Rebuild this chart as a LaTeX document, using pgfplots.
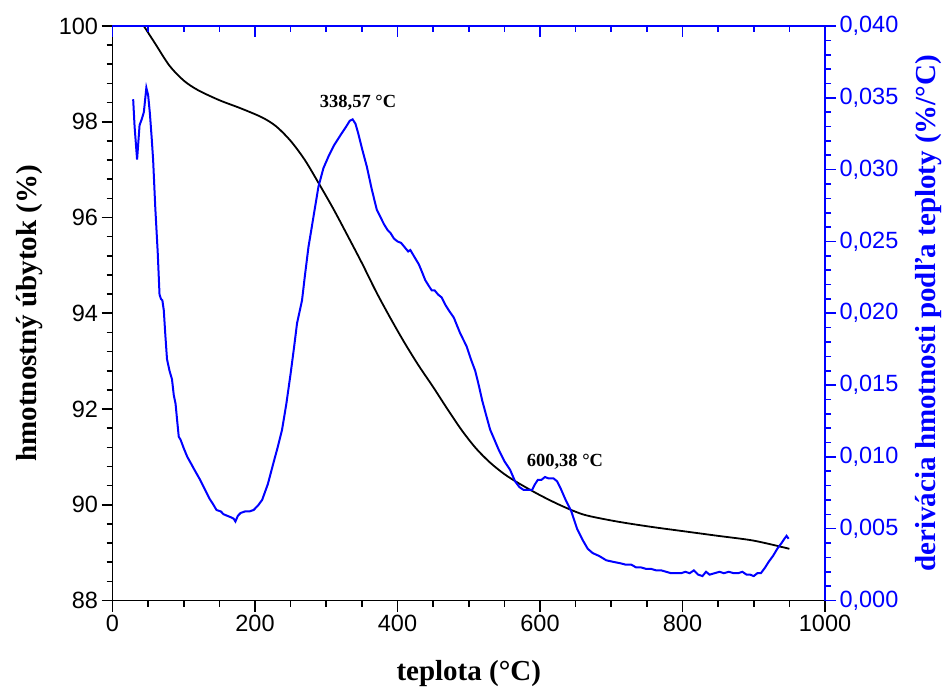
\documentclass[border=0pt]{standalone}
\usepackage{fontspec}
\setmainfont{Liberation Serif}
\newfontfamily\arial{Liberation Sans}
\usepackage{pgfplots}
\pgfplotsset{compat=1.18}
\usetikzlibrary{calc}

\pgfplotsset{
  tgbase/.style={
    scale only axis, width=712.5pt, height=574.5pt,
    xmin=0, xmax=1000,
    tick label style={font=\arial\fontsize{23.5}{23.5}\selectfont},
    /pgf/number format/assume math mode=true,
    major tick length=11pt, minor tick length=6pt,
    axis line style={-, line width=1.9pt},
    clip=false,
  },
}

\begin{document}
\begin{tikzpicture}
% hmotnost (lava os)
\begin{axis}[tgbase,
  ymin=88, ymax=100,
  axis x line*=bottom, axis y line*=left,
  xtick={0,200,400,600,800,1000}, ytick={88,90,92,94,96,98,100},
  minor x tick num=3, minor y tick num=4,
  tick align=outside,
  every tick/.style={black, line width=1.6pt},
  x tick label style={/pgf/number format/1000 sep={}},
]
\coordinate (bl) at (rel axis cs:0,0);
\coordinate (tr) at (rel axis cs:1,1);
\coordinate (ml) at (rel axis cs:0,0.5);
\coordinate (mb) at (rel axis cs:0.5,0);
\coordinate (mr) at (rel axis cs:1,0.5);
\addplot[black, line width=1.8pt, smooth] coordinates {
(44,100.0)(60,99.63)(80,99.17)(100,98.86)(120,98.66)(150,98.45)(180,98.28)
(210,98.09)(230,97.90)(250,97.60)(270,97.20)(290,96.70)(310,96.18)(330,95.62)
(350,95.05)(370,94.45)(390,93.90)(410,93.38)(430,92.90)(450,92.46)(470,92.00)
(490,91.56)(510,91.18)(530,90.88)(550,90.64)(570,90.45)(600,90.20)(630,89.98)
(660,89.80)(690,89.70)(720,89.62)(760,89.53)(800,89.45)(850,89.35)(900,89.25)
(950,89.08)
};
\end{axis}

% derivacia (prava os)
\begin{axis}[tgbase,
  ymin=0, ymax=0.04,
  axis x line=none, axis y line*=right,
  ytick={0,0.005,0.01,0.015,0.02,0.025,0.03,0.035,0.04},
  minor y tick num=4,
  tick align=outside,
  y axis line style={blue},
  every tick/.style={blue, line width=1.6pt},
  scaled y ticks=false,
  yticklabel style={blue, /pgf/number format/.cd, fixed, fixed zerofill, precision=3, use comma},
]
\addplot[blue, line width=2pt] coordinates {
(29,0.0349)(31,0.0330)(34.5,0.0307)(38,0.0331)(41,0.0335)(44,0.0340)(47.5,0.0357)
(50,0.0352)(52.5,0.0339)(55,0.0322)(57,0.0307)(60,0.0274)(63.5,0.0242)(66,0.0213)
(68,0.0210)(70,0.0209)(72,0.0202)(74,0.0186)(76.5,0.0168)(80,0.0160)(83.5,0.0154)
(86,0.0143)(88.5,0.0137)(91,0.0124)(93,0.0114)(95.5,0.0112)(100,0.0106)(105,0.0100)
(109.5,0.0096)(115,0.0091)(123,0.0084)(130,0.0077)(136,0.0071)(140,0.0068)
(146,0.0063)(152,0.0062)(156,0.0060)(161,0.0059)(166,0.0058)(170,0.0057)
(172.5,0.0055)(176,0.0059)(180,0.0061)(186,0.0062)(192,0.0062)(198,0.0063)
(204,0.0066)(210,0.0070)(218,0.0081)(226,0.0096)(232,0.0107)(238,0.0119)
(244,0.0137)(250,0.0158)(255,0.0177)(259,0.0193)(266,0.0209)(270,0.0226)
(275,0.0246)(282,0.0267)(289,0.0288)(296,0.0301)(303,0.0309)(311,0.0317)
(320,0.0324)(328,0.0330)(333,0.0334)(337,0.0335)(341,0.0332)(345,0.0325)
(350,0.0315)(357,0.0302)(364,0.0286)(371,0.0272)(376,0.0267)(381,0.0262)
(386,0.0258)(390,0.0256)(395,0.0252)(400,0.0250)(405,0.0249)(410,0.0246)
(415,0.0243)(418,0.0244)(424,0.0239)(430,0.0234)(435,0.0228)(439,0.0223)
(444,0.0219)(448,0.0216)(452,0.0216)(457,0.0213)(462,0.0211)(467,0.0206)
(472,0.0202)(479,0.0197)(488,0.0186)(497,0.0177)(503,0.0168)(509,0.0160)
(514,0.0150)(519,0.0139)(525,0.0128)(530,0.0119)(536,0.0112)(542,0.0105)
(550,0.0097)(558,0.0091)(565,0.0083)(571,0.0079)(577,0.0077)(583,0.0077)
(589,0.0077)(593,0.0081)(597,0.0084)(602,0.0084)(607,0.0086)(612,0.0085)
(619,0.0085)(624,0.0083)(629,0.0078)(636,0.0070)(644,0.0062)(652,0.0050)
(660,0.0042)(667,0.0036)(674,0.0033)(683,0.0031)(693,0.0028)(702,0.0027)
(712,0.0026)(720,0.0025)(728,0.0025)(735,0.0023)(742,0.0023)(749,0.0022)
(756,0.0022)(763,0.0021)(770,0.0021)(777,0.0020)(784,0.0019)(791,0.0019)
(798,0.0019)(804,0.0020)(810,0.0019)(816,0.0021)(822,0.0018)(828,0.0017)
(833,0.0020)(838,0.0018)(845,0.0019)(852,0.0020)(858,0.0019)(865,0.0020)
(872,0.0019)(878,0.0019)(884,0.0020)(890,0.0018)(895,0.0018)(900,0.0017)
(905,0.0019)(910,0.0019)(916,0.0023)(921,0.0027)(927,0.0031)(933,0.0036)
(939,0.0040)(943,0.0043)(946,0.0045)(949,0.0043)
};
\node[font=\bfseries\fontsize{18.5}{18.5}\selectfont] at (axis cs:344.6,0.03464) {338,57 °C};
\node[font=\bfseries\fontsize{18.5}{18.5}\selectfont] at (axis cs:635,0.00966) {600,38 °C};
\end{axis}

% horna os
\begin{axis}[tgbase,
  ymin=0, ymax=1,
  axis x line*=top, axis y line=none,
  xtick={0,200,400,600,800,1000}, minor x tick num=3,
  xticklabels={},
  tick align=inside,
  x axis line style={blue},
  every tick/.style={blue, line width=1.6pt},
]
\end{axis}

% popisy osi
\node[rotate=90, font=\bfseries\fontsize{29}{29}\selectfont]
  at ($(ml)+(-82.5pt,0)$) {hmotnostný úbytok (\%)};
\node[font=\bfseries\fontsize{29}{29}\selectfont]
  at ($(mb)+(0,-73.5pt)$) {teplota (°C)};
\node[rotate=90, blue, font=\bfseries\fontsize{29}{29}\selectfont]
  at ($(mr)+(104pt,0)$) {derivácia hmotnosti podľa teploty (\%/°C)};

\pgfresetboundingbox
\path ($(bl)+(-112.5pt,-93.5pt)$) rectangle ($(tr)+(122pt,26pt)$);
\end{tikzpicture}
\end{document}
